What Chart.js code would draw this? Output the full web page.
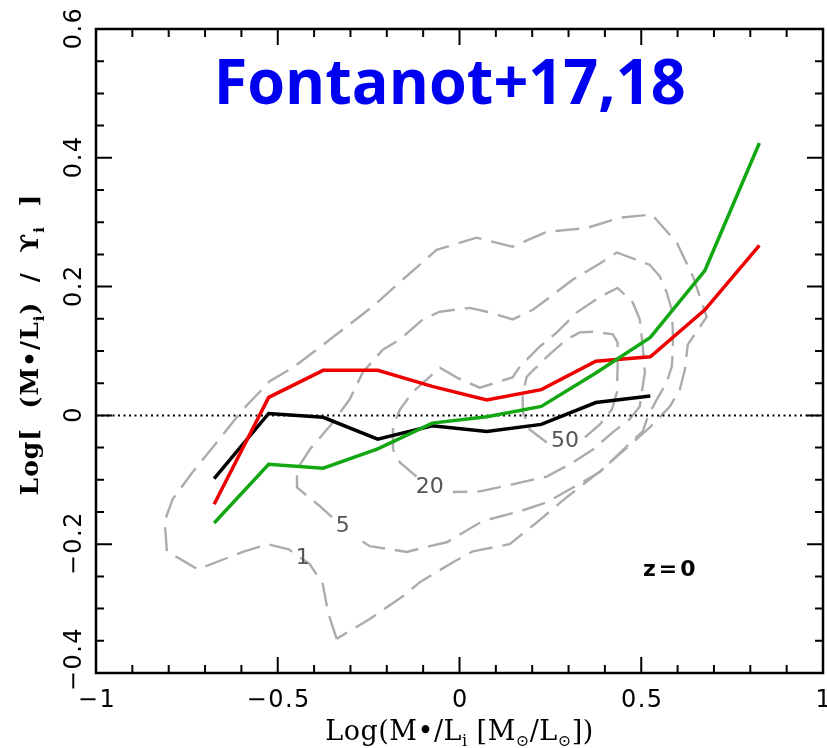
<!doctype html>
<html>
<head>
<title>Fontanot+17,18</title>
<script src="https://cdn.jsdelivr.net/npm/chart.js@4.4.0/dist/chart.umd.min.js"></script>
<style>
    html, body { margin: 0; padding: 0; background: #fff; }
    #wrap { width: 827px; height: 748px; }
</style>
</head>
<body>
<div id="wrap"><canvas id="canvas" width="827" height="748"></canvas></div>
<script>
// bin centres of the median relations
var xBins = [-0.675, -0.525, -0.375, -0.225, -0.075, 0.075, 0.225, 0.375, 0.525, 0.675, 0.825];
var blackY = [-0.098, 0.003, -0.003, -0.037, -0.016, -0.025, -0.014, 0.020, 0.030];
var redY   = [-0.138, 0.028, 0.070, 0.070, 0.045, 0.024, 0.040, 0.084, 0.091, 0.164, 0.264];
var greenY = [-0.167, -0.076, -0.082, -0.052, -0.012, -0.002, 0.014, 0.066, 0.121, 0.225, 0.423];

// density contours (gray dashed)
var contour1 = [[-0.338,-0.347],[-0.362,-0.305],[-0.376,-0.262],[-0.412,-0.231],[-0.470,-0.208],[-0.528,-0.200],
    [-0.596,-0.212],[-0.720,-0.239],[-0.805,-0.211],[-0.811,-0.164],[-0.789,-0.130],[-0.734,-0.088],[-0.668,-0.042],
    [-0.596,0.009],[-0.522,0.053],[-0.459,0.074],[-0.393,0.102],[-0.239,0.169],[-0.156,0.211],[-0.063,0.257],
    [0.047,0.276],[0.146,0.262],[0.240,0.285],[0.350,0.291],[0.441,0.307],[0.529,0.312],[0.598,0.268],[0.642,0.216],
    [0.680,0.153],[0.628,0.110],[0.620,0.071],[0.606,0.040],[0.579,0.014],[0.523,-0.019],[0.477,-0.042],[0.386,-0.087],
    [0.295,-0.127],[0.213,-0.166],[0.138,-0.200],[0.037,-0.211],[-0.018,-0.228],[-0.109,-0.259],[-0.156,-0.281],
    [-0.247,-0.316],[-0.338,-0.347]];
var contour5 = [[-0.351,-0.158],[-0.384,-0.141],[-0.447,-0.112],[-0.447,-0.084],[-0.412,-0.053],[-0.357,-0.017],
    [-0.302,0.025],[-0.266,0.067],[-0.211,0.102],[-0.164,0.118],[-0.101,0.149],[-0.054,0.161],[0.028,0.167],
    [0.083,0.160],[0.146,0.149],[0.202,0.164],[0.240,0.180],[0.312,0.211],[0.386,0.236],[0.433,0.253],[0.523,0.234],
    [0.551,0.216],[0.570,0.191],[0.584,0.164],[0.587,0.129],[0.587,0.102],[0.584,0.076],[0.570,0.051],[0.543,0.025],
    [0.518,-0.002],[0.504,-0.025],[0.460,-0.048],[0.386,-0.088],[0.312,-0.112],[0.240,-0.135],[0.166,-0.149],
    [0.064,-0.164],[-0.035,-0.197],[-0.082,-0.203],[-0.145,-0.212],[-0.247,-0.203],[-0.288,-0.188]];
var contour20 = [[-0.118,-0.095],[-0.164,-0.073],[-0.183,-0.053],[-0.183,-0.017],[-0.164,0.009],[-0.129,0.036],
    [-0.054,0.074],[-0.008,0.059],[0.056,0.043],[0.146,0.059],[0.166,0.076],[0.221,0.107],[0.268,0.129],[0.323,0.160],
    [0.386,0.184],[0.435,0.198],[0.477,0.175],[0.496,0.149],[0.504,0.107],[0.510,0.067],[0.504,0.045],[0.496,0.014],
    [0.468,-0.006],[0.422,-0.026],[0.367,-0.053],[0.312,-0.073],[0.240,-0.095],[0.146,-0.107],[0.056,-0.118],
    [-0.018,-0.119]];
var contour50 = [[0.345,-0.034],[0.386,-0.014],[0.419,0.009],[0.433,0.036],[0.435,0.076],[0.435,0.113],[0.422,0.126],
    [0.367,0.130],[0.331,0.129],[0.295,0.118],[0.240,0.091],[0.185,0.060],[0.174,0.033],[0.174,0.006],[0.193,-0.022],
    [0.240,-0.042]];

var contourLabels = ['1', '5', '20', '50'];
var contourLabelPos = [[-0.431,-0.222], [-0.321,-0.172], [-0.082,-0.111], [0.290,-0.040]];

var xTickValues = [-1, -0.5, 0, 0.5, 1];
var xTickLabels = ['\u22121', '\u22120.5', '0', '0.5', '1'];
var yTickValues = [-0.4, -0.2, 0, 0.2, 0.4, 0.6];
var yTickLabels = ['\u22120.4', '\u22120.2', '0', '0.2', '0.4', '0.6'];

function pts(xs, ys) {
    var out = [];
    for (var i = 0; i < ys.length; i++) out.push({x: xs[i], y: ys[i]});
    return out;
}
function pairs(arr) {
    return arr.map(function(p){ return {x: p[0], y: p[1]}; });
}

function contourSet(arr) {
    return {
        data: pairs(arr), showLine: true, pointRadius: 0, borderColor: '#acacac',
        borderWidth: 2.4, borderDash: [24, 10], tension: 0, order: 5
    };
}

// draw pieces of text, some as subscripts, centred on (0,0)
function richText(ctx, parts, font, subFont) {
    var w = 0, i;
    for (i = 0; i < parts.length; i++) {
        ctx.font = parts[i].sub ? subFont : font;
        parts[i].w = ctx.measureText(parts[i].t).width;
        w += parts[i].w;
    }
    var x = -w / 2;
    for (i = 0; i < parts.length; i++) {
        ctx.font = parts[i].sub ? subFont : font;
        ctx.fillText(parts[i].t, x, parts[i].sub ? 6 : 0);
        x += parts[i].w;
    }
}

var framePlugin = {
    id: 'frame',
    afterDraw: function(chart) {
        var ctx = chart.ctx, a = chart.chartArea;
        var xs = chart.scales.x, ys = chart.scales.y;
        var i, v, p, len;
        ctx.save();
        ctx.strokeStyle = '#000';
        ctx.lineWidth = 2;
        ctx.beginPath();
        for (i = -10; i <= 10; i++) {
            p = xs.getPixelForValue(i / 10);
            len = (i % 5 === 0) ? 16 : 8;
            ctx.moveTo(p, a.bottom); ctx.lineTo(p, a.bottom - len);
            ctx.moveTo(p, a.top); ctx.lineTo(p, a.top + len);
        }
        for (i = -8; i <= 12; i++) {
            p = ys.getPixelForValue(i * 0.05);
            len = (i % 4 === 0) ? 16 : 8;
            ctx.moveTo(a.left, p); ctx.lineTo(a.left + len, p);
            ctx.moveTo(a.right, p); ctx.lineTo(a.right - len, p);
        }
        ctx.stroke();
        ctx.lineWidth = 2.5;
        ctx.strokeRect(a.left, a.top, a.right - a.left, a.bottom - a.top);

        // tick labels
        ctx.fillStyle = '#000';
        ctx.font = '24px "DejaVu Sans"';
        ctx.letterSpacing = '1.5px';
        ctx.textAlign = 'center';
        ctx.textBaseline = 'middle';
        for (i = 0; i < xTickValues.length; i++) {
            ctx.fillText(xTickLabels[i], xs.getPixelForValue(xTickValues[i]) + 1, a.bottom + 28);
        }
        for (i = 0; i < yTickValues.length; i++) {
            ctx.save();
            ctx.translate(a.left - 21, ys.getPixelForValue(yTickValues[i]));
            ctx.rotate(-Math.PI / 2);
            // the lowest label sits a little up, inside the frame height
            ctx.fillText(yTickLabels[i], i === 0 ? 14 : 1, 0);
            ctx.restore();
        }
        ctx.letterSpacing = '0px';

        // axis titles
        ctx.textAlign = 'left';
        ctx.textBaseline = 'alphabetic';
        ctx.save();
        ctx.translate((a.left + a.right) / 2, a.bottom + 67);
        ctx.letterSpacing = '0.5px';
        richText(ctx, [{t: 'Log(M\u2022/L'}, {t: 'i', sub: true}, {t: ' [M'}, {t: '\u2299', sub: true},
            {t: '/L'}, {t: '\u2299', sub: true}, {t: '])'}], '27px "DejaVu Serif"', '16px "DejaVu Serif"');
        ctx.restore();
        ctx.save();
        ctx.translate(a.left - 58, ys.getPixelForValue(0.11));
        ctx.rotate(-Math.PI / 2);
        ctx.letterSpacing = '1px';
        richText(ctx, [{t: 'Log[  (M\u2022/L'}, {t: 'i', sub: true}, {t: ')  /  \u03d2'}, {t: 'i', sub: true},
            {t: '  ]'}], 'bold 25px "DejaVu Serif"', 'bold 15px "DejaVu Serif"');
        ctx.restore();
        ctx.letterSpacing = '0px';

        // contour labels
        ctx.fillStyle = '#555';
        ctx.font = '22px "DejaVu Sans"';
        ctx.textAlign = 'center';
        ctx.textBaseline = 'middle';
        for (i = 0; i < contourLabels.length; i++) {
            ctx.fillText(contourLabels[i], xs.getPixelForValue(contourLabelPos[i][0]),
                ys.getPixelForValue(contourLabelPos[i][1]));
        }

        // z=0
        ctx.fillStyle = '#000';
        ctx.font = 'bold 22px "DejaVu Sans"';
        ctx.letterSpacing = '3px';
        ctx.fillText('z=0', xs.getPixelForValue(0.581), ys.getPixelForValue(-0.240));
        ctx.letterSpacing = '0px';

        // big blue title
        ctx.fillStyle = '#0000f0';
        ctx.font = 'bold 62px "Open Sans"';
        ctx.textBaseline = 'alphabetic';
        var txt = 'Fontanot+17,18';
        var tw = ctx.measureText(txt).width;
        ctx.translate(xs.getPixelForValue(-0.027), ys.getPixelForValue(0.484));
        ctx.scale(472 / tw, 1);
        ctx.fillText(txt, 0, 0);
        ctx.restore();
    }
};

window.onload = function() {
    var ctx = document.getElementById('canvas').getContext('2d');
    window.myChart = new Chart(ctx, {
        type: 'scatter',
        data: {
            datasets: [
                {data: pts(xBins, greenY), showLine: true, pointRadius: 0, borderColor: '#13a813', borderWidth: 3.5, order: 1},
                {data: pts(xBins, redY), showLine: true, pointRadius: 0, borderColor: '#ee0000', borderWidth: 3.5, order: 2},
                {data: pts(xBins, blackY), showLine: true, pointRadius: 0, borderColor: '#000', borderWidth: 3.5, order: 3},
                {data: [{x: -1, y: 0}, {x: 1, y: 0}], showLine: true, pointRadius: 0, borderColor: '#000',
                    borderWidth: 2, borderDash: [2, 3.5], order: 4},
                contourSet(contour1),
                contourSet(contour5),
                contourSet(contour20),
                contourSet(contour50)
            ]
        },
        options: {
            responsive: false,
            animation: false,
            devicePixelRatio: 1,
            layout: { padding: {left: 96, right: 4, top: 29, bottom: 75} },
            plugins: { legend: {display: false}, tooltip: {enabled: false} },
            scales: {
                x: { type: 'linear', min: -1, max: 1, display: false },
                y: { type: 'linear', min: -0.4, max: 0.6, display: false }
            }
        },
        plugins: [framePlugin]
    });
};
</script>
</body>
</html>
